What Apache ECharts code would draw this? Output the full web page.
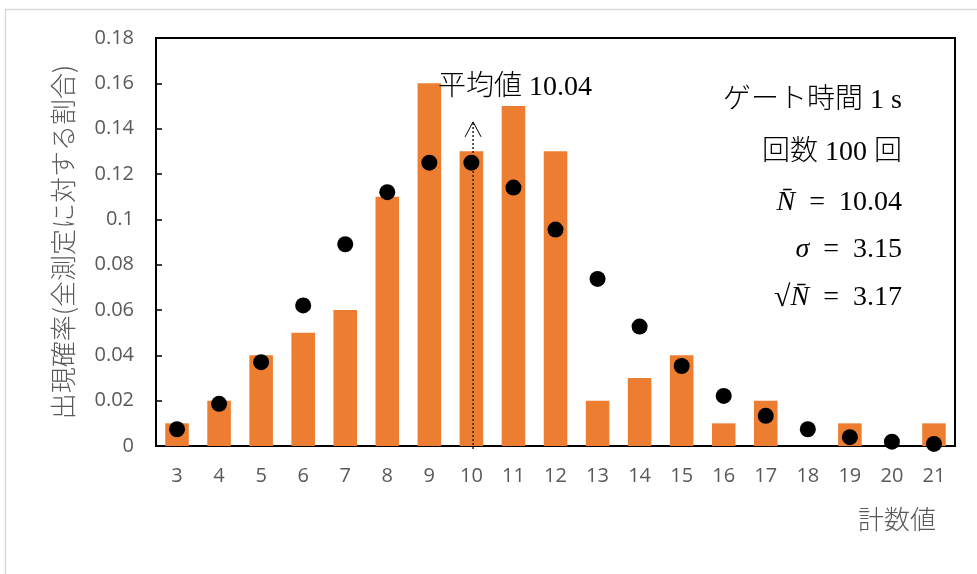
<!DOCTYPE html>
<html>
<head>
<meta charset="utf-8">
<script src="https://cdn.jsdelivr.net/npm/echarts@6/dist/echarts.min.js"></script>
<style>
  html, body { margin: 0; padding: 0; background: #fff; }
  #chart { width: 977px; height: 574px; }
</style>
</head>
<body>
<div id="chart"></div>
<script>
// Count values observed in 1 s gates
const counts = ['3','4','5','6','7','8','9','10','11','12','13','14','15','16','17','18','19','20','21'];
// Measured frequency (fraction of all 100 measurements)
const measured = [0.01,0.02,0.04,0.05,0.06,0.11,0.16,0.13,0.15,0.13,0.02,0.03,0.04,0.01,0.02,0,0.01,0,0.01];
// Expected probability (black dots)
const expected = [0.0074,0.0186,0.037,0.062,0.089,0.112,0.125,0.125,0.114,0.0955,0.0737,0.0527,0.0353,0.0221,0.0133,0.0074,0.0039,0.0019,0.0009];
// Mean marker: position on the count axis and arrow tip height
const meanValue = 10.04;
const meanArrowTop = 0.143;
const yTicks = { min: 0, max: 0.18, interval: 0.02 };

const SERIF = '"Liberation Serif", "DejaVu Serif", "Noto Sans CJK JP", serif';
const SANS = '"Open Sans", "Noto Sans", "Noto Sans CJK JP", sans-serif';
const CJK = '"Liberation Serif", "Noto Sans CJK JP", serif';
const GRAY = '#595959';
const SP = '\u2002';

const chart = echarts.init(document.getElementById('chart'));

chart.setOption({
  animation: false,
  backgroundColor: '#fff',
  grid: {
    left: 156, right: 22, top: 38, bottom: 128,
    show: true, borderColor: '#000', borderWidth: 2, backgroundColor: 'transparent'
  },
  xAxis: [
    {
      type: 'category',
      data: counts,
      boundaryGap: true,
      axisLine: { lineStyle: { color: '#000', width: 2 } },
      axisTick: { show: false },
      axisLabel: { color: GRAY, fontSize: 20, fontFamily: SANS, margin: 20 }
    },
    {
      type: 'value',
      min: 2.5, max: 21.5,
      show: false
    }
  ],
  yAxis: {
    type: 'value',
    min: yTicks.min, max: yTicks.max, interval: yTicks.interval,
    name: '出現確率(全測定に対する割合)',
    nameLocation: 'middle',
    nameRotate: 90,
    nameGap: 80,
    nameTextStyle: { color: GRAY, fontSize: 26, fontFamily: '"Noto Sans CJK JP", sans-serif', fontWeight: 300 },
    axisLine: { show: true, lineStyle: { color: '#000', width: 2 } },
    axisTick: { show: true, inside: true, length: 6, lineStyle: { color: '#000', width: 1.5 } },
    splitLine: { show: false },
    axisLabel: { color: GRAY, fontSize: 20, fontFamily: SANS, margin: 22 }
  },
  series: [
    {
      type: 'bar',
      data: measured,
      barCategoryGap: '44%',
      itemStyle: { color: '#ED7D31' },
      z: 2
    },
    {
      type: 'custom',
      xAxisIndex: 1,
      yAxisIndex: 0,
      data: [[meanValue, meanArrowTop]],
      z: 3,
      renderItem: function (params, api) {
        const base = api.coord([api.value(0), 0]);
        const tip = api.coord([api.value(0), api.value(1)]);
        return {
          type: 'group',
          children: [
            {
              type: 'line',
              shape: { x1: tip[0], y1: base[1] + 3, x2: tip[0], y2: tip[1] },
              style: { stroke: '#222', lineWidth: 1.5, lineDash: [2, 2] }
            },
            {
              type: 'polyline',
              shape: { points: [[tip[0] - 8, tip[1] + 15], [tip[0], tip[1]], [tip[0] + 8, tip[1] + 15]] },
              style: { stroke: '#000', lineWidth: 1, fill: null }
            },
            {
              type: 'text',
              x: tip[0] - 35,
              y: tip[1] - 34,
              style: {
                text: '平均値 10.04',
                font: '300 28px ' + CJK,
                fill: '#000',
                align: 'left',
                verticalAlign: 'middle'
              }
            }
          ]
        };
      }
    },
    {
      type: 'scatter',
      data: expected,
      symbol: 'circle',
      symbolSize: 16,
      itemStyle: { color: '#000', opacity: 1 },
      z: 4
    }
  ],
  graphic: [
    {
      type: 'rect',
      shape: { x: 5.5, y: 9.5, width: 1200, height: 1200 },
      style: { fill: null, stroke: '#d9d9d9', lineWidth: 1.5 },
      silent: true,
      z: -10
    },
    {
      type: 'text',
      right: 977 - 936,
      top: 506,
      style: { text: '計数値', font: '300 26px "Noto Sans CJK JP", sans-serif', fill: GRAY }
    },
    {
      type: 'text',
      x: 902, y: 101,
      style: { text: 'ゲート時間 1 s', font: '300 28px ' + CJK, fill: '#000', align: 'right', verticalAlign: 'middle' }
    },
    {
      type: 'text',
      x: 902, y: 153,
      style: { text: '回数 100 回', font: '300 28px ' + CJK, fill: '#000', align: 'right', verticalAlign: 'middle' }
    },
    {
      type: 'text',
      x: 902, y: 203,
      style: {
        text: '{i|N̄}' + SP + '=' + SP + '10.04',
        font: '28px ' + SERIF, fill: '#000', align: 'right', verticalAlign: 'middle',
        rich: { i: { fontStyle: 'italic', fontSize: 28, fontFamily: SERIF } }
      }
    },
    {
      type: 'text',
      x: 902, y: 250,
      style: {
        text: '{i|σ}' + SP + '=' + SP + '3.15',
        font: '28px ' + SERIF, fill: '#000', align: 'right', verticalAlign: 'middle',
        rich: { i: { fontStyle: 'italic', fontSize: 28, fontFamily: SERIF } }
      }
    },
    {
      type: 'text',
      x: 902, y: 298,
      style: {
        text: '{r|√}{i|N̄}' + SP + '=' + SP + '3.17',
        font: '28px ' + SERIF, fill: '#000', align: 'right', verticalAlign: 'middle',
        rich: {
          r: { color: '#7a5c58', fontSize: 30, fontFamily: SERIF },
          i: { fontStyle: 'italic', fontSize: 28, fontFamily: SERIF }
        }
      }
    }
  ]
});
</script>
</body>
</html>
